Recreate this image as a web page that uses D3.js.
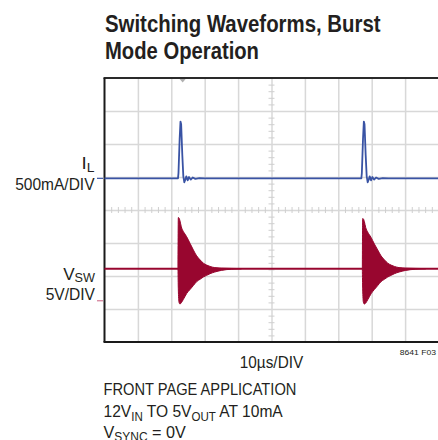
<!DOCTYPE html>
<html><head><meta charset="utf-8">
<script src="https://cdn.jsdelivr.net/npm/d3@7"></script>
<style>body{margin:0;background:#fff;} svg{display:block;}</style>
</head><body><svg id="c" width="438" height="440"></svg>
<script>
// ---------------- data ----------------
const titleLines = ["Switching Waveforms, Burst", "Mode Operation"];
const timeDivLabel = "10µs/DIV";
const figureId = "8641 F03";

// I_L trace (µs, A)
const iTime = [0, 22.0, 22.15, 22.5, 22.75, 22.95, 23.3, 23.6, 23.9, 24.2, 24.5, 24.9, 25.3, 25.8, 26.4, 27.2, 28.4, 30,
               76.9, 77.05, 77.4, 77.65, 77.85, 78.2, 78.5, 78.8, 79.1, 79.4, 79.8, 80.2, 80.7, 81.3, 82.1, 83.3, 85, 100];
const iAmps = [0, 0, 0.08, 0.6, 0.86, 0.82, 0.35, 0.03, -0.06, -0.02, 0.03, -0.03, 0.02, -0.02, 0.012, -0.008, 0.004, 0,
               0, 0.08, 0.6, 0.86, 0.82, 0.35, 0.03, -0.06, -0.02, 0.03, -0.03, 0.02, -0.02, 0.012, -0.008, 0.004, 0, 0];

// V_SW idle level (µs, V)
const vBaseTime = [0, 100];
const vBaseVolts = [4.85, 4.85];

// V_SW ringing bursts: envelope (µs, upper V, lower V)
const burst1Time  = [22.0, 22.1, 22.3, 22.6, 23.0, 23.6, 24.1, 24.6, 25.6, 26.6, 27.6, 28.6, 29.6, 30.6, 31.6, 33.0, 35.0, 38.0, 41.0];
const burst1Upper = [4.85, 12.6, 12.55, 12.1, 11.2, 10.5, 10.1, 9.7, 8.7, 7.7, 6.8, 6.2, 5.7, 5.4, 5.2, 5.02, 4.94, 4.9, 4.87];
const burst1Lower = [4.85, 1.8, -0.2, -0.5, -0.3, 0.2, 0.65, 1.1, 1.7, 2.3, 2.9, 3.25, 3.6, 3.85, 4.1, 4.35, 4.6, 4.78, 4.83];
const burst2Time  = [77.2, 77.3, 77.5, 77.8, 78.2, 78.8, 79.3, 79.8, 80.8, 81.8, 82.8, 83.8, 84.8, 85.8, 86.8, 88.2, 90.2, 93.2, 96.2];
const burst2Upper = [4.85, 12.45, 12.4, 12.0, 11.1, 10.4, 10.0, 9.6, 8.6, 7.7, 6.8, 6.2, 5.7, 5.4, 5.2, 5.02, 4.94, 4.9, 4.87];
const burst2Lower = [4.85, 1.8, -0.2, -0.5, -0.35, 0.15, 0.6, 1.05, 1.7, 2.3, 2.9, 3.25, 3.6, 3.85, 4.1, 4.35, 4.6, 4.78, 4.83];

const triggerTime = 23.4;

// ---------------- layout ----------------
const svg = d3.select("#c");
const L = 104.5, R = 438.5, T = 78, B = 342;
const x = d3.scaleLinear().domain([0, 100]).range([L, R]);
const yDiv = d3.scaleLinear().domain([-4, 4]).range([B, T]);
const iOffset = 0.96, iPerDiv = 0.5;     // I_L ground marker position (div), A/div
const vOffset = -2.75, vPerDiv = 5;      // V_SW ground marker position (div), V/div
const yI = v => yDiv(iOffset + v / iPerDiv);
const yV = v => yDiv(vOffset + v / vPerDiv);

const gridColor = "#d8d8d8";
const blue = "#3953a4", red = "#98062f";
const textColor = "#231f20";
const font = "'Liberation Sans', Arial, sans-serif";

// grid via axes
const gGridX = svg.append("g").attr("transform", `translate(0,${B})`)
  .call(d3.axisBottom(x).tickValues(d3.range(1, 11).map(k => k * 10)).tickSize(-(B - T)).tickFormat(""));
const gGridY = svg.append("g").attr("transform", `translate(${L},0)`)
  .call(d3.axisLeft(yDiv).tickValues(d3.range(-3, 4)).tickSize(-(R - L)).tickFormat(""));
[gGridX, gGridY].forEach(g => {
  g.select(".domain").remove();
  g.selectAll("line").attr("stroke", gridColor).attr("stroke-width", 1.5);
});

// minor ticks on center lines
const minorX = d3.range(0, 101, 2).filter(v => v % 10 !== 0);
const gMinX = svg.append("g").attr("transform", `translate(0,${yDiv(0) - 3})`)
  .call(d3.axisBottom(x).tickValues(minorX).tickSize(6).tickFormat(""));
const minorY = d3.range(-20, 21).map(k => k / 5).filter(v => Math.abs(v - Math.round(v)) > 1e-6);
const gMinY = svg.append("g").attr("transform", `translate(${x(50) + 3},0)`)
  .call(d3.axisLeft(yDiv).tickValues(minorY).tickSize(6).tickFormat(""));
[gMinX, gMinY].forEach(g => {
  g.select(".domain").remove();
  g.selectAll("line").attr("stroke", "#cfcfcf").attr("stroke-width", 1);
});

// frame
svg.append("line").attr("x1", L - 1).attr("x2", R + 2).attr("y1", T).attr("y2", T).attr("stroke", "#2a2a2a").attr("stroke-width", 2);
svg.append("line").attr("x1", L - 1).attr("x2", R + 2).attr("y1", B).attr("y2", B).attr("stroke", "#1a1a1a").attr("stroke-width", 2);
svg.append("line").attr("x1", L).attr("x2", L).attr("y1", T).attr("y2", B).attr("stroke", "#1a1a1a").attr("stroke-width", 2);

// trigger marker
const tx = x(triggerTime);
svg.append("path").attr("d", `M${tx - 3},${T + 1}L${tx + 3},${T + 1}L${tx},${T + 4.5}Z`).attr("fill", "#b0b0b0");

// channel ground markers
svg.append("line").attr("x1", 97).attr("x2", 103).attr("y1", yI(0)).attr("y2", yI(0)).attr("stroke", blue).attr("stroke-width", 1.2);
svg.append("line").attr("x1", 97).attr("x2", 103).attr("y1", yV(0)).attr("y2", yV(0)).attr("stroke", "#d27a95").attr("stroke-width", 1.2);

// V_SW trace
const vBase = vBaseTime.map((t, i) => [t, vBaseVolts[i]]);
svg.append("path").datum(vBase)
  .attr("d", d3.line().x(d => x(d[0])).y(d => yV(d[1])))
  .attr("fill", "none").attr("stroke", red).attr("stroke-width", 2);
const area = d3.area().x(d => x(d.t)).y0(d => yV(d.lo)).y1(d => yV(d.hi)).curve(d3.curveMonotoneX);
[[burst1Time, burst1Upper, burst1Lower], [burst2Time, burst2Upper, burst2Lower]].forEach(([ts, hs, ls]) => {
  const d = ts.map((t, i) => ({ t, hi: hs[i], lo: ls[i] }));
  svg.append("path").datum(d).attr("d", area).attr("fill", red).attr("stroke", red).attr("stroke-width", 1);
});

// I_L trace
const iData = iTime.map((t, i) => [t, iAmps[i]]);
svg.append("path").datum(iData)
  .attr("d", d3.line().x(d => x(d[0])).y(d => yI(d[1])))
  .attr("fill", "none").attr("stroke", blue).attr("stroke-width", 1.8).attr("stroke-linejoin", "round");

// ---------------- text ----------------
function label(px, py, anchor, parts, size, weight, targetW, subOff) {
  const g = svg.append("g");
  const t = g.append("text").attr("x", 0).attr("y", 0).attr("text-anchor", anchor)
    .attr("font-family", font).attr("font-size", size).attr("font-weight", weight).attr("fill", textColor);
  let prevSub = false;
  const off = subOff !== undefined ? subOff : size * 0.22;
  parts.forEach(([s, sub]) => {
    const ts = t.append("tspan").text(s);
    if (sub) { ts.attr("font-size", size * 0.74).attr("dy", prevSub ? 0 : off); }
    else if (prevSub) { ts.attr("dy", -off); }
    prevSub = sub;
  });
  const w = t.node().getBBox().width;
  const sx = targetW ? targetW / w : 1;
  g.attr("transform", `translate(${px},${py}) scale(${sx},1)`);
  return g;
}

label(105, 32, "start", [[titleLines[0], false]], 23, "bold", 276);
label(105, 58.5, "start", [[titleLines[1], false]], 23, "bold", 154);

label(94.5, 169, "end", [["I", false], ["L", true]], 17, "normal", 13, 2.5);
label(94.5, 190, "end", [["500mA/DIV", false]], 17, "normal", 80);
label(95, 279.5, "end", [["V", false], ["SW", true]], 17, "normal", 32, 2.5);
label(95, 299.5, "end", [["5V/DIV", false]], 17, "normal", 50);

label(271.5, 367.5, "middle", [[timeDivLabel, false]], 17, "normal", 64);
label(436, 355, "end", [[figureId, false]], 8, "normal", 37);

label(103.5, 395, "start", [["FRONT PAGE APPLICATION", false]], 17, "normal", 193);
label(103.5, 417, "start", [["12V", false], ["IN", true], [" TO 5V", false], ["OUT", true], [" AT 10mA", false]], 17, "normal", 180);
label(103.5, 437.5, "start", [["V", false], ["SYNC", true], [" = 0V", false]], 17, "normal", 83);
</script></body></html>
